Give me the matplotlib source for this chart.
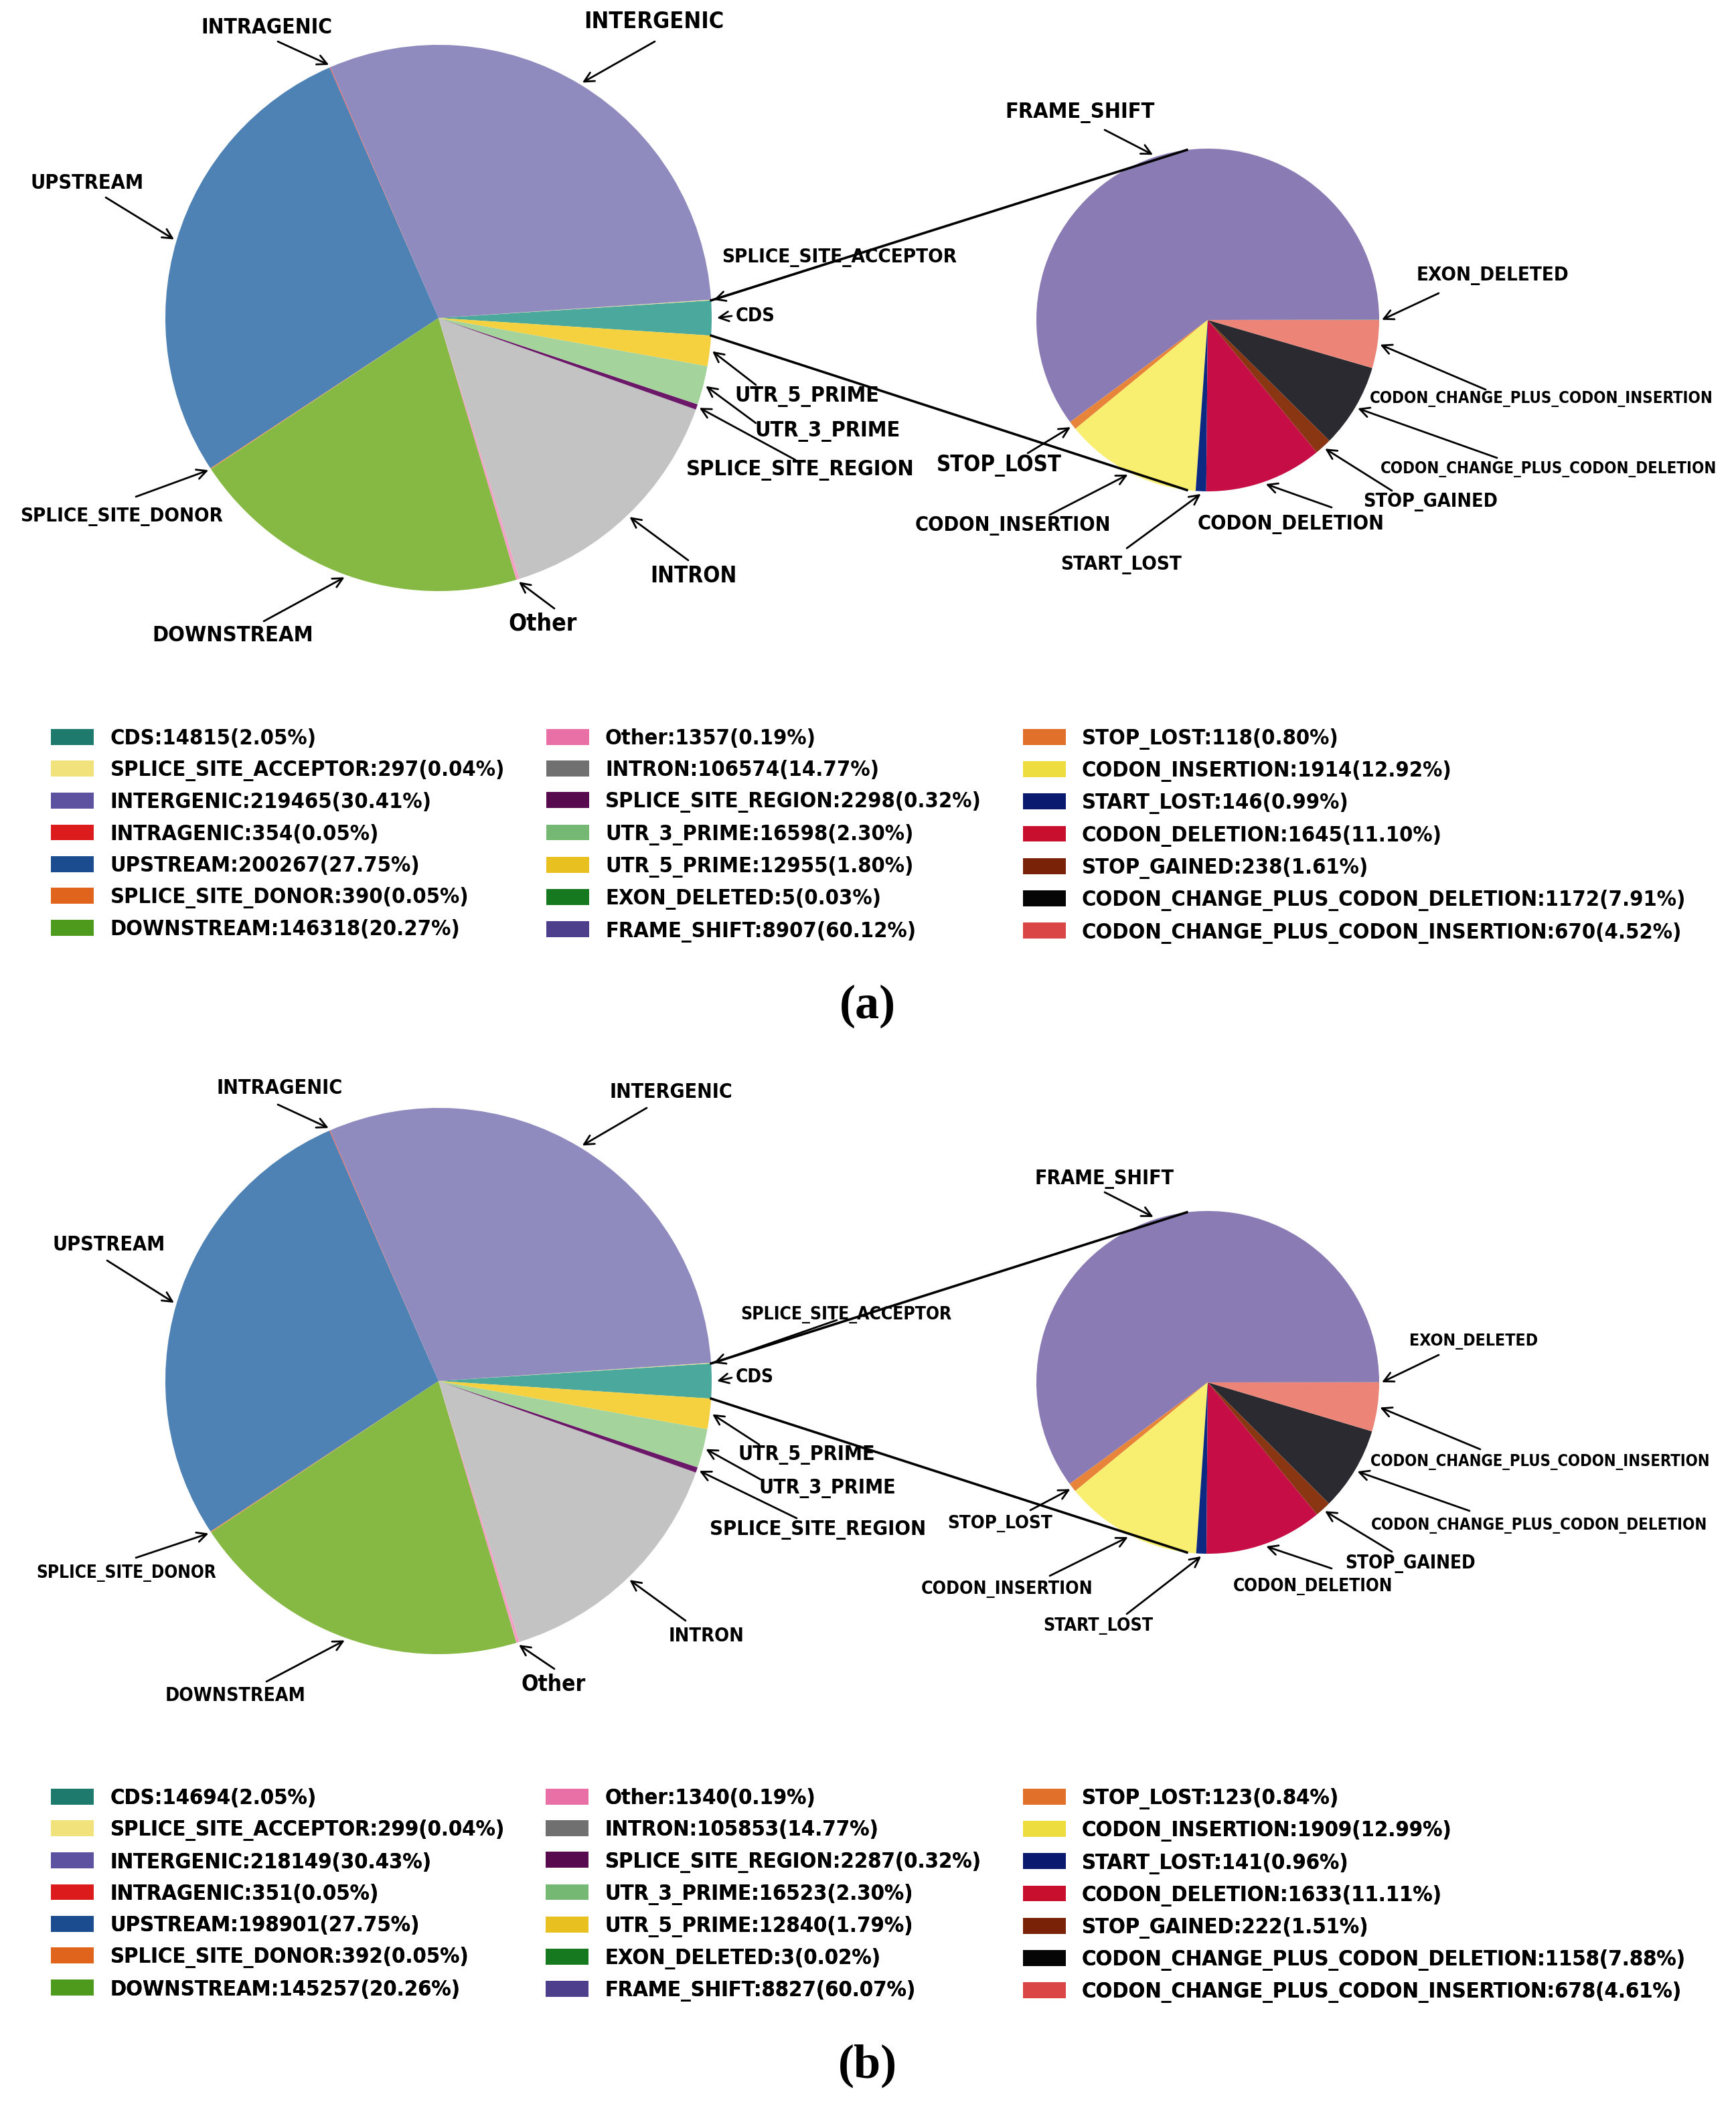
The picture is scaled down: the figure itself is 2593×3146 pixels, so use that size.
"""SnpEff annotation summary: pie-of-pie for two samples (a) and (b)"""
import matplotlib
matplotlib.use('Agg')
import matplotlib.pyplot as plt
import matplotlib.patches as mpatches
import numpy as np

W, H = 2593, 3146  # canvas in pixels, one data unit = one pixel

# ─── data ───
MAIN_NAMES = ['CDS', 'SPLICE_SITE_ACCEPTOR', 'INTERGENIC', 'INTRAGENIC', 'UPSTREAM',
              'SPLICE_SITE_DONOR', 'DOWNSTREAM', 'Other', 'INTRON',
              'SPLICE_SITE_REGION', 'UTR_3_PRIME', 'UTR_5_PRIME']
CDS_NAMES = ['EXON_DELETED', 'FRAME_SHIFT', 'STOP_LOST', 'CODON_INSERTION',
             'START_LOST', 'CODON_DELETION', 'STOP_GAINED',
             'CODON_CHANGE_PLUS_CODON_DELETION', 'CODON_CHANGE_PLUS_CODON_INSERTION']

main_counts_a = [14815, 297, 219465, 354, 200267, 390, 146318, 1357, 106574, 2298, 16598, 12955]
main_pct_a = ['2.05', '0.04', '30.41', '0.05', '27.75', '0.05', '20.27', '0.19', '14.77',
              '0.32', '2.30', '1.80']
cds_counts_a = [5, 8907, 118, 1914, 146, 1645, 238, 1172, 670]
cds_pct_a = ['0.03', '60.12', '0.80', '12.92', '0.99', '11.10', '1.61', '7.91', '4.52']

main_counts_b = [14694, 299, 218149, 351, 198901, 392, 145257, 1340, 105853, 2287, 16523, 12840]
main_pct_b = ['2.05', '0.04', '30.43', '0.05', '27.75', '0.05', '20.26', '0.19', '14.77',
              '0.32', '2.30', '1.79']
cds_counts_b = [3, 8827, 123, 1909, 141, 1633, 222, 1158, 678]
cds_pct_b = ['0.02', '60.07', '0.84', '12.99', '0.96', '11.11', '1.51', '7.88', '4.61']

# ─── styles ───
MAIN_PIE_COLORS = ['#4ba89c', '#f5e98a', '#8f8bbe', '#e8605a', '#4e81b4', '#ee8a4a',
                   '#86b844', '#f2a0c4', '#c3c3c3', '#6b1869', '#a4d49c', '#f5d13f']
CDS_PIE_COLORS = ['#3a9a3e', '#8b7bb4', '#e8843a', '#f8ee70', '#0c2a82', '#c70d45',
                  '#8a3612', '#2b2a30', '#ec8577']
MAIN_LEG_COLORS = ['#1d7a6c', '#f2e27c', '#5c52a0', '#dc1c1c', '#1b4c90', '#e0641c',
                   '#4e9a1c', '#e870a6', '#707070', '#580a4e', '#74b874', '#e8c020']
CDS_LEG_COLORS = ['#17791f', '#4e3f8c', '#e0702a', '#eedd3e', '#0a1a6e', '#c80f2e',
                  '#7a2208', '#050505', '#da4646']

FONT = dict(family=['DejaVu Sans Condensed', 'DejaVu Sans'], stretch='condensed',
            weight='bold')

R_MAIN, R_SMALL = 408, 256

# label layout (top-down pixels): text x, text y, arrow tail x, tail y, fontsize[, ha]
LAYOUT_A = {
    'main_center': (655, 475), 'small_center': (1804, 478),
    'legend_top': 1088, 'tag': (1296, 1503, '(a)'),
    'labels': {
        'CDS': (1099, 472, 1093, 472, 10.3, 'left'),
        'SPLICE_SITE_ACCEPTOR': (1254, 385, 1250, 389, 10.6),
        'INTERGENIC': (977, 32, 978, 62, 12.3),
        'INTRAGENIC': (398, 41, 415, 62, 11.4),
        'UPSTREAM': (130, 273, 158, 295, 11.0),
        'SPLICE_SITE_DONOR': (182, 772, 203, 742, 10.6),
        'DOWNSTREAM': (348, 950, 394, 928, 11.7),
        'Other': (811, 931, 828, 909, 12.8),
        'INTRON': (1036, 860, 1028, 837, 11.9),
        'SPLICE_SITE_REGION': (1195, 703, 1188, 687, 11.7),
        'UTR_3_PRIME': (1236, 645, 1129, 632, 11.6),
        'UTR_5_PRIME': (1205, 593, 1129, 575, 11.5),
        'EXON_DELETED': (2229, 412, 2149, 438, 10.6),
        'FRAME_SHIFT': (1613, 169, 1650, 194, 11.6),
        'STOP_LOST': (1492, 696, 1535, 677, 11.8),
        'CODON_INSERTION': (1513, 786, 1568, 769, 11.0),
        'START_LOST': (1675, 844, 1683, 819, 10.6),
        'CODON_DELETION': (1928, 784, 1989, 758, 11.0),
        'STOP_GAINED': (2137, 750, 2079, 733, 10.3),
        'CODON_CHANGE_PLUS_CODON_DELETION': (2313, 701, 2236, 684, 8.6),
        'CODON_CHANGE_PLUS_CODON_INSERTION': (2302, 596, 2219, 582, 8.6),
    },
}
LAYOUT_B = {
    'main_center': (655, 2063), 'small_center': (1804, 2065),
    'legend_top': 2671, 'tag': (1296, 3086, '(b)'),
    'labels': {
        'CDS': (1099, 2057, 1093, 2058, 10.0, 'left'),
        'SPLICE_SITE_ACCEPTOR': (1264, 1964, 1250, 1972, 9.5),
        'INTERGENIC': (1002, 1631, 966, 1655, 10.8),
        'INTRAGENIC': (418, 1626, 415, 1650, 11.0),
        'UPSTREAM': (163, 1859, 160, 1883, 10.9),
        'SPLICE_SITE_DONOR': (189, 2350, 203, 2327, 9.4),
        'DOWNSTREAM': (352, 2533, 398, 2512, 10.2),
        'Other': (827, 2516, 828, 2493, 12.0),
        'INTRON': (1055, 2444, 1024, 2421, 10.4),
        'SPLICE_SITE_REGION': (1222, 2286, 1190, 2268, 11.1),
        'UTR_3_PRIME': (1236, 2224, 1136, 2210, 10.9),
        'UTR_5_PRIME': (1205, 2174, 1134, 2158, 10.9),
        'EXON_DELETED': (2201, 2004, 2149, 2024, 8.9),
        'FRAME_SHIFT': (1650, 1761, 1650, 1781, 10.8),
        'STOP_LOST': (1494, 2276, 1539, 2256, 9.9),
        'CODON_INSERTION': (1504, 2374, 1568, 2354, 9.6),
        'START_LOST': (1640, 2429, 1683, 2411, 9.6),
        'CODON_DELETION': (1961, 2370, 1989, 2343, 9.4),
        'STOP_GAINED': (2107, 2336, 2079, 2318, 10.0),
        'CODON_CHANGE_PLUS_CODON_DELETION': (2299, 2279, 2195, 2257, 8.6),
        'CODON_CHANGE_PLUS_CODON_INSERTION': (2300, 2184, 2211, 2165, 8.5),
    },
}


def P(x, y):
    """top-down pixel -> data coords"""
    return x, H - y


def edge_point(wedge, pad=4, theta=None):
    if theta is None:
        theta = 0.5 * (wedge.theta1 + wedge.theta2)
    cx, cy = wedge.center
    t = np.deg2rad(theta)
    return cx + (wedge.r + pad) * np.cos(t), cy + (wedge.r + pad) * np.sin(t)


def draw_panel(ax, main_counts, main_pct, cds_counts, cds_pct, L):
    angle = -180 * main_counts[0] / sum(main_counts)  # CDS centred on the x axis
    w_main, _ = ax.pie(main_counts, colors=MAIN_PIE_COLORS, startangle=angle,
                       center=P(*L['main_center']), radius=R_MAIN, frame=True,
                       wedgeprops=dict(linewidth=0))
    w_cds, _ = ax.pie(cds_counts, colors=CDS_PIE_COLORS, startangle=0,
                      center=P(*L['small_center']), radius=R_SMALL, frame=True,
                      wedgeprops=dict(linewidth=0))

    # lines from the CDS wedge to the breakdown pie
    cds = w_main[0]
    for th_main, th_small in [(cds.theta2, 97), (cds.theta1, 263)]:
        x1, y1 = edge_point(cds, 0, th_main)
        x2, y2 = edge_point(w_cds[0], 0, th_small)
        ax.plot([x1, x2], [y1, y2], color='black', lw=1.3, zorder=5)

    wedges = dict(zip(MAIN_NAMES, w_main))
    wedges.update(zip(CDS_NAMES, w_cds))
    for name, spec in L['labels'].items():
        tx, ty, ax_, ay_, size = spec[:5]
        ha = spec[5] if len(spec) > 5 else 'center'
        pad = 8 if name == 'CDS' else 4
        ax.annotate('', xy=edge_point(wedges[name], pad), xytext=P(ax_, ay_),
                    arrowprops=dict(arrowstyle='->', lw=1.0, color='black',
                                    shrinkA=0, shrinkB=0, mutation_scale=13),
                    zorder=6)
        ax.text(*P(tx, ty), name, ha=ha, va='center', fontsize=size, color='black',
                zorder=7, **FONT)

    handles = [mpatches.Patch(facecolor=c, edgecolor='none')
               for c in MAIN_LEG_COLORS + CDS_LEG_COLORS]
    labels = [f'{n}:{c}({p}%)' for n, c, p in
              zip(MAIN_NAMES + CDS_NAMES, main_counts + cds_counts, main_pct + cds_pct)]
    leg = ax.legend(handles, labels, ncol=3, loc='upper left',
                    bbox_to_anchor=P(76, L['legend_top']), bbox_transform=ax.transData,
                    frameon=False, prop=dict(size=11.7, **FONT),
                    handlelength=1.97, handleheight=0.75,
                    handletextpad=0.75, labelspacing=0.5, columnspacing=1.9,
                    borderpad=0, borderaxespad=0)
    ax.add_artist(leg)

    tx, ty, tag = L['tag']
    ax.text(*P(tx, ty), tag, ha='center', va='center', fontsize=26,
            fontweight='bold', family=['Liberation Serif', 'DejaVu Serif'])


fig = plt.figure(figsize=(W / 200, H / 200), dpi=200)
ax = fig.add_axes([0, 0, 1, 1])

draw_panel(ax, main_counts_a, main_pct_a, cds_counts_a, cds_pct_a, LAYOUT_A)
draw_panel(ax, main_counts_b, main_pct_b, cds_counts_b, cds_pct_b, LAYOUT_B)

ax.set_xlim(0, W)
ax.set_ylim(0, H)
ax.set_aspect('equal')
ax.axis('off')

fig.savefig('out.png', dpi=200, facecolor='white')
